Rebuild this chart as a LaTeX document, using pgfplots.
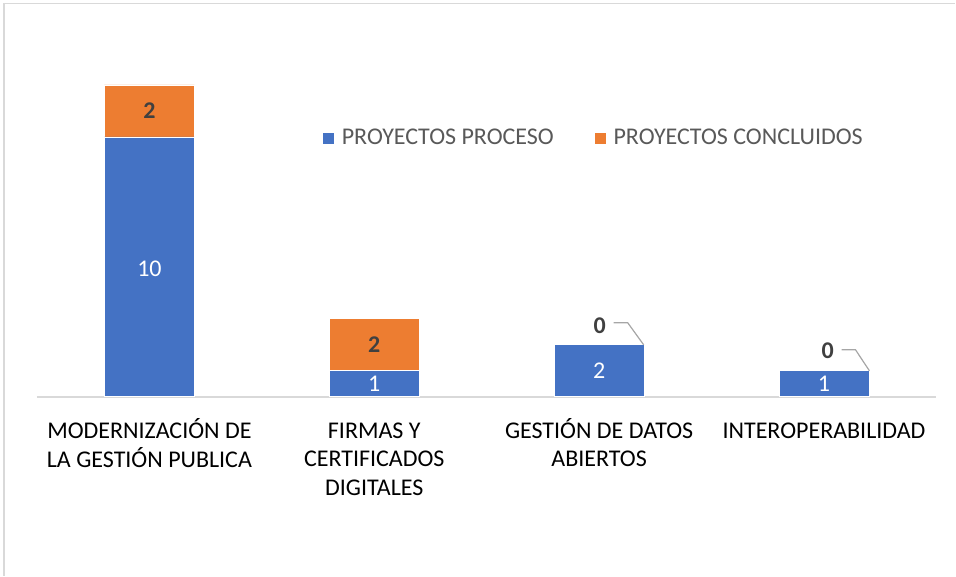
\documentclass[border=0pt]{standalone}
\usepackage{pgfplots}
\pgfplotsset{compat=1.18}
\usepackage{fontspec}
\setmainfont{Carlito}
\definecolor{cblue}{HTML}{4472C4}
\definecolor{corange}{HTML}{ED7D31}
\definecolor{lgray}{HTML}{D9D9D9}
\definecolor{tgray}{HTML}{595959}
\definecolor{dgray}{HTML}{404040}
\definecolor{lead}{HTML}{A6A6A6}
\newcommand{\fs}{\fontsize{24}{28.5}\selectfont}
\begin{document}
\begin{tikzpicture}
\path (0,0) rectangle (956pt,576pt);
\draw[lgray, line width=1.2pt] (4pt,0) -- (4pt,572.5pt) -- (956pt,572.5pt);
\begin{axis}[
  at={(37pt,179pt)}, anchor=south west,
  scale only axis, width=900pt, height=312pt,
  ybar stacked, bar width=90pt,
  xmin=-0.5, xmax=3.5, ymin=0, ymax=12,
  axis y line=none,
  axis x line*=bottom,
  x axis line style={lgray, line width=1.5pt, -},
  xtick={0,1,2,3}, major tick length=0pt,
  xticklabels={{\strut MODERNIZACIÓN DE\\LA GESTIÓN PUBLICA},{\strut FIRMAS Y\\CERTIFICADOS\\DIGITALES},{\strut GESTIÓN DE DATOS\\ABIERTOS},{\strut INTEROPERABILIDAD}},
  xticklabel style={align=center, font=\fs, text=black, yshift=-18pt},
  legend columns=2,
  legend style={draw=none, at={(0.3167,0.83)}, anchor=west, inner sep=0pt,
    font=\fs, text=tgray,
    /tikz/every odd column/.append style={column sep=5pt},
    /tikz/every even column/.append style={column sep=38pt}},
  legend image code/.code={\fill[#1] (0pt,-6pt) rectangle (12pt,6pt);},
  clip=false,
]
\addplot[fill=cblue, draw=white, line width=0.8pt] coordinates {(0,10) (1,1) (2,2) (3,1)};
\addplot[fill=corange, draw=white, line width=0.8pt] coordinates {(0,2) (1,2) (2,0) (3,0)};
\legend{PROYECTOS PROCESO, PROYECTOS CONCLUIDOS}
\coordinate (a1) at (axis cs:0,4.92);
\coordinate (a2) at (axis cs:0,11);
\coordinate (b1) at (axis cs:1,0.5);
\coordinate (b2) at (axis cs:1,2);
\coordinate (c1) at (axis cs:2,1);
\coordinate (d1) at (axis cs:3,0.5);
\coordinate (c0) at (axis cs:2.002,2.73);
\coordinate (d0) at (axis cs:3.016,1.77);
\coordinate (cl1) at (axis cs:2.064,2.85);
\coordinate (cl2) at (axis cs:2.127,2.85);
\coordinate (cl3) at (axis cs:2.198,2.0);
\coordinate (dl1) at (axis cs:3.078,1.81);
\coordinate (dl2) at (axis cs:3.14,1.81);
\coordinate (dl3) at (axis cs:3.202,1.0);
\end{axis}
\node[text=white, font=\fs] at (a1) {10};
\node[text=dgray, font=\fs] at (a2) {\textbf{2}};
\node[text=white, font=\fs] at (b1) {1};
\node[text=dgray, font=\fs] at (b2) {\textbf{2}};
\node[text=white, font=\fs] at (c1) {2};
\node[text=white, font=\fs] at (d1) {1};
\node[text=dgray, font=\fs] at (c0) {\textbf{0}};
\node[text=dgray, font=\fs] at (d0) {\textbf{0}};
\draw[lead, line width=1.2pt] (cl1) -- (cl2) -- (cl3);
\draw[lead, line width=1.2pt] (dl1) -- (dl2) -- (dl3);
\end{tikzpicture}
\end{document}
